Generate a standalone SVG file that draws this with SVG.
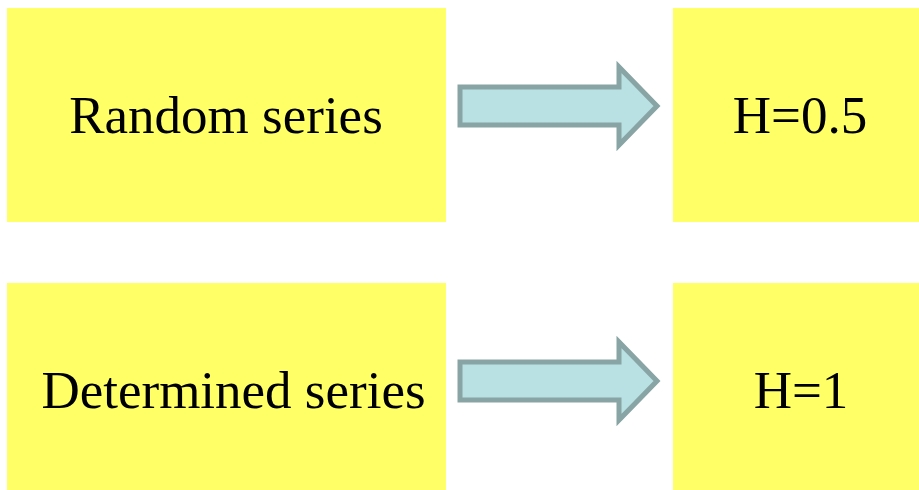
<svg xmlns="http://www.w3.org/2000/svg" width="919" height="490" viewBox="0 0 919 490">
<style>
.box{fill:#ffff66}
.t{font-family:"Liberation Serif","Times New Roman",serif;font-size:53px;fill:#000;text-anchor:middle}
.arr{fill:#b9e0e2;stroke:#88a4a4;stroke-width:5;stroke-linejoin:miter}
</style>
<rect width="919" height="490" fill="#fff"/>
<g id="random"><rect class="box" x="7" y="8" width="439" height="214"/><text class="t" x="226" y="133">Random series</text></g>
<g id="h05"><rect class="box" x="673" y="8" width="246" height="214"/><text class="t" x="800" y="133">H=0.5</text></g>
<g id="determined"><rect class="box" x="7" y="283" width="439" height="207"/><text class="t" x="233.5" y="408">Determined series</text></g>
<g id="h1"><rect class="box" x="673" y="283" width="246" height="207"/><text class="t" x="801" y="408">H=1</text></g>
<g id="connectors">
<path class="arr" d="M460,87 L619,87 L619,67 L657,106 L619,145 L619,125 L460,125 Z"/>
<path class="arr" d="M460,362 L619,362 L619,342 L657,381 L619,420 L619,400 L460,400 Z"/>
</g>
</svg>
